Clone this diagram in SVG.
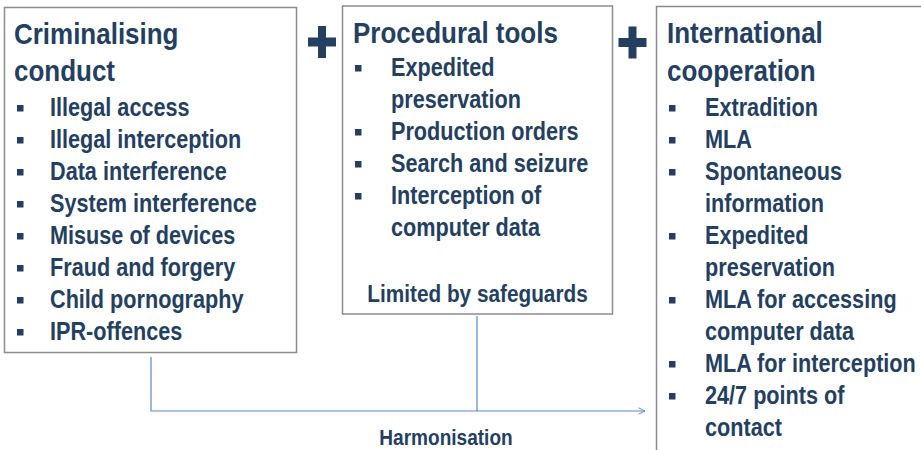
<svg xmlns="http://www.w3.org/2000/svg" width="921" height="450" viewBox="0 0 921 450">
<defs>
<style>
.box{fill:#fff;stroke:#8c8c8c;stroke-width:1.5}
.t{font-family:"Liberation Sans",Arial,sans-serif;font-weight:bold;fill:#243F60}
.h{font-size:30px}
.i{font-size:25px}
.s{font-size:24px}
.hm{font-size:22px}
.b{fill:#243F60}
.plus{fill:#243F60}
.con{fill:none;stroke:#5B87C5;stroke-width:1.2}
</style>
<marker id="arr" viewBox="0 0 10 10" refX="9" refY="5" markerWidth="8" markerHeight="10" markerUnits="userSpaceOnUse" orient="auto">
<path d="M1,1 L9,5 L1,9" fill="none" stroke="#5B87C5" stroke-width="1.2"/>
</marker>
</defs>
<rect width="921" height="450" fill="#fff"/>

<g id="connectors">
<path class="con" d="M151,357 V411 H645" marker-end="url(#arr)"/>
<path class="con" d="M477,316 V411"/>
<g transform="translate(446 445) scale(.866 1)"><text class="t hm" x="0" y="0" text-anchor="middle">Harmonisation</text></g>
</g>

<g id="plus1"><rect class="plus" x="308" y="37.5" width="28" height="9"/><rect class="plus" x="318" y="26" width="8" height="32"/></g>
<g id="plus2"><rect class="plus" x="618.5" y="38" width="28" height="9"/><rect class="plus" x="628.5" y="26.5" width="8" height="32"/></g>

<g id="criminalising">
<rect class="box" x="4.5" y="7.5" width="292" height="345"/>
<g transform="translate(14 0) scale(.866 1)">
<text class="t h" x="0" y="44">Criminalising</text>
<text class="t h" x="0" y="81">conduct</text>
</g>
<rect class="b" x="17" y="105" width="6.5" height="6.5"/>
<rect class="b" x="17" y="137" width="6.5" height="6.5"/>
<rect class="b" x="17" y="169" width="6.5" height="6.5"/>
<rect class="b" x="17" y="201" width="6.5" height="6.5"/>
<rect class="b" x="17" y="233" width="6.5" height="6.5"/>
<rect class="b" x="17" y="265" width="6.5" height="6.5"/>
<rect class="b" x="17" y="297" width="6.5" height="6.5"/>
<rect class="b" x="17" y="329" width="6.5" height="6.5"/>
<g transform="translate(50 0) scale(.866 1)">
<text class="t i" x="0" y="116">Illegal access</text>
<text class="t i" x="0" y="148">Illegal interception</text>
<text class="t i" x="0" y="180">Data interference</text>
<text class="t i" x="0" y="212">System interference</text>
<text class="t i" x="0" y="244">Misuse of devices</text>
<text class="t i" x="0" y="276">Fraud and forgery</text>
<text class="t i" x="0" y="308">Child pornography</text>
<text class="t i" x="0" y="340">IPR-offences</text>
</g>
</g>

<g id="procedural">
<rect class="box" x="342.5" y="6" width="270" height="308"/>
<g transform="translate(353 0) scale(.866 1)">
<text class="t h" x="0" y="43">Procedural tools</text>
</g>
<rect class="b" x="355" y="65" width="6.5" height="6.5"/>
<rect class="b" x="355" y="129" width="6.5" height="6.5"/>
<rect class="b" x="355" y="161" width="6.5" height="6.5"/>
<rect class="b" x="355" y="193" width="6.5" height="6.5"/>
<g transform="translate(391 0) scale(.866 1)">
<text class="t i" x="0" y="76">Expedited</text>
<text class="t i" x="0" y="108">preservation</text>
<text class="t i" x="0" y="140">Production orders</text>
<text class="t i" x="0" y="172">Search and seizure</text>
<text class="t i" x="0" y="204">Interception of</text>
<text class="t i" x="0" y="236">computer data</text>
</g>
<g transform="translate(477.5 302) scale(.866 1)"><text class="t s" x="0" y="0" text-anchor="middle">Limited by safeguards</text></g>
</g>

<g id="international">
<rect class="box" x="656.5" y="6.5" width="290" height="460"/>
<g transform="translate(667 0) scale(.866 1)">
<text class="t h" x="0" y="43">International</text>
<text class="t h" x="0" y="81">cooperation</text>
</g>
<rect class="b" x="669" y="105" width="6.5" height="6.5"/>
<rect class="b" x="669" y="137" width="6.5" height="6.5"/>
<rect class="b" x="669" y="169" width="6.5" height="6.5"/>
<rect class="b" x="669" y="233" width="6.5" height="6.5"/>
<rect class="b" x="669" y="297" width="6.5" height="6.5"/>
<rect class="b" x="669" y="361" width="6.5" height="6.5"/>
<rect class="b" x="669" y="393" width="6.5" height="6.5"/>
<g transform="translate(705 0) scale(.866 1)">
<text class="t i" x="0" y="116">Extradition</text>
<text class="t i" x="0" y="148">MLA</text>
<text class="t i" x="0" y="180">Spontaneous</text>
<text class="t i" x="0" y="212">information</text>
<text class="t i" x="0" y="244">Expedited</text>
<text class="t i" x="0" y="276">preservation</text>
<text class="t i" x="0" y="308">MLA for accessing</text>
<text class="t i" x="0" y="340">computer data</text>
<text class="t i" x="0" y="372">MLA for interception</text>
<text class="t i" x="0" y="404">24/7 points of</text>
<text class="t i" x="0" y="436">contact</text>
</g>
</g>
</svg>
